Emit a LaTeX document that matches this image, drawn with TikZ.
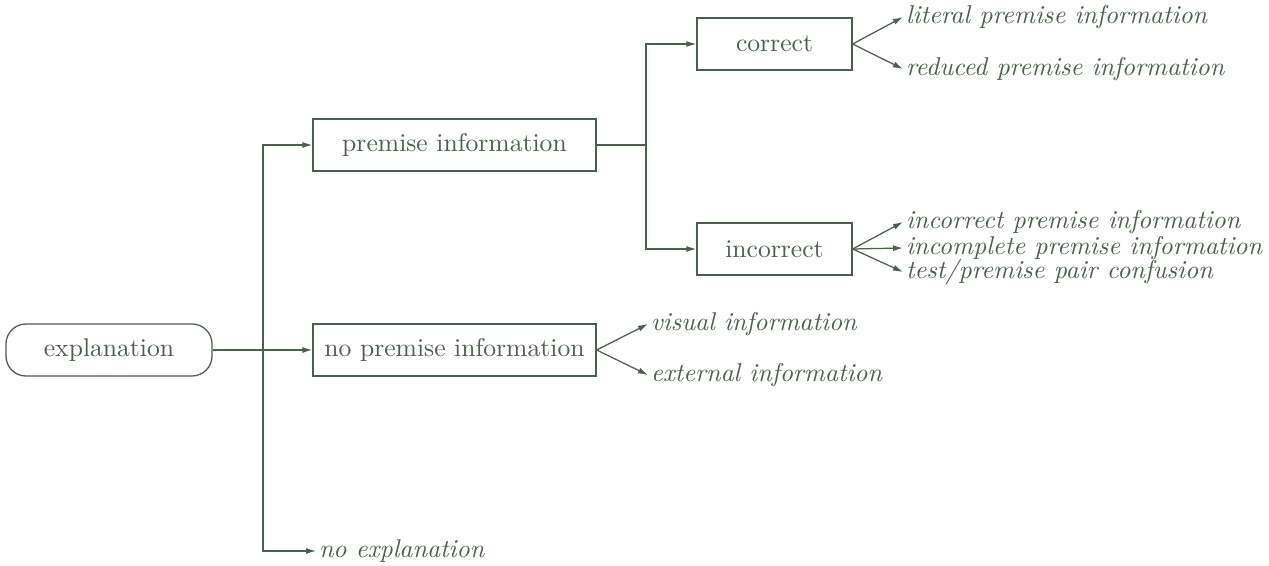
\documentclass[tikz,border=0pt]{standalone}
\usetikzlibrary{arrows.meta}
\definecolor{ink}{rgb}{0.30,0.37,0.30}
\begin{document}
\begin{tikzpicture}[x=0.4pt,y=-0.4pt,
  every node/.style={text=ink,font=\fontsize{10.25pt}{12pt}\selectfont},
  box/.style={draw=ink,line width=0.5pt,minimum height=20.8pt,inner sep=0pt},
  leaf/.style={anchor=west,inner sep=1pt,font=\fontsize{10.3pt}{12pt}\selectfont\itshape},
  link/.style={draw=ink,line width=0.5pt},
  arr/.style={link,-{Latex[length=4pt,width=2.4pt]}}]
\useasboundingbox (0,0) rectangle (1269,566);
% main nodes
\node[box,rounded corners=8pt,minimum width=82.4pt] (expl) at (109,350) {explanation};
\node[box,minimum width=113.2pt] (prem) at (454.5,145) {premise information};
\node[box,minimum width=113.2pt] (noprem) at (454.5,350) {no premise information};
\node[box,minimum width=62pt] (corr) at (774.5,44) {correct};
\node[box,minimum width=62pt] (incorr) at (774.5,249) {incorrect};
% leaves
\node[leaf] (lit) at (903,17) {literal premise information};
\node[leaf] (red) at (903,69) {reduced premise information};
\node[leaf] (icp) at (903,222) {incorrect premise information};
\node[leaf] (inc) at (903,248) {incomplete premise information};
\node[leaf] (tpp) at (903,272) {test/premise pair confusion};
\node[leaf] (vis) at (648,324) {visual information};
\node[leaf] (ext) at (648,375) {external information};
\node[leaf] (noexp) at (316,551) {no explanation};
% trunks
\coordinate (j) at (263,350);
\coordinate (k) at (646,145);
\draw[arr] (expl) -- (noprem);
\draw[arr] (j) |- (prem.west);
\draw[arr] (j) |- (noexp.west);
\draw[link] (prem.east) -- (k);
\draw[arr] (k) |- (corr.west);
\draw[arr] (k) |- (incorr.west);
% fans
\draw[arr] (corr.east) -- (lit.west);
\draw[arr] (corr.east) -- (red.west);
\draw[arr] (incorr.east) -- (icp.west);
\draw[arr] (incorr.east) -- (inc.west);
\draw[arr] (incorr.east) -- (tpp.west);
\draw[arr] (noprem.east) -- (vis.west);
\draw[arr] (noprem.east) -- (ext.west);
\end{tikzpicture}
\end{document}
